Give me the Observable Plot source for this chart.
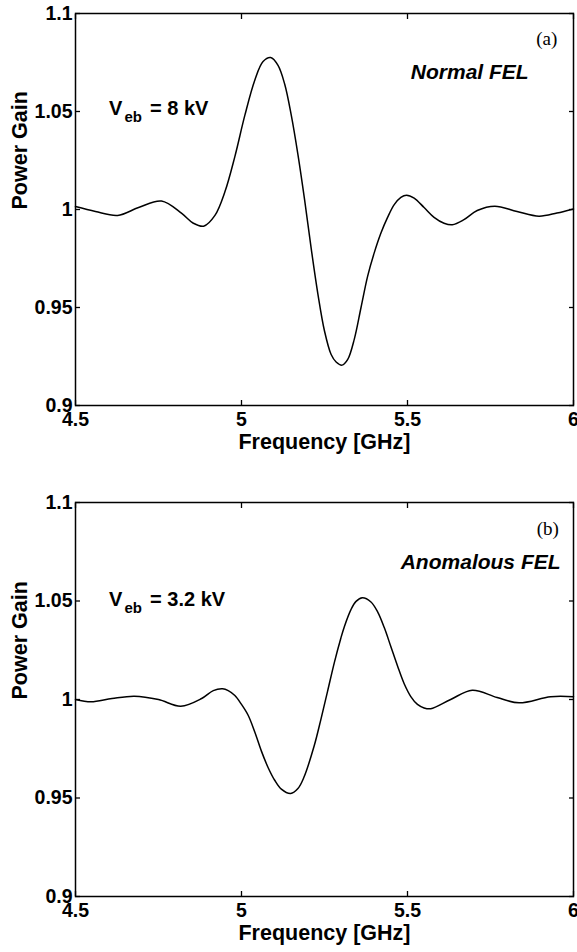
<!DOCTYPE html>
<html><head><meta charset="utf-8">
<script src="https://cdn.jsdelivr.net/npm/d3@7"></script>
<script src="https://cdn.jsdelivr.net/npm/@observablehq/plot@0.6"></script>
<style>
body{margin:0;background:#fff}
#chart svg{display:block}
</style>
</head><body><div id="chart"></div>
<script>
// Panel (a): Normal FEL, Veb = 8 kV
const freqA = [4.5, 4.56, 4.627, 4.69, 4.759, 4.82, 4.855, 4.886, 4.92, 4.95, 4.98, 5.01, 5.04, 5.065, 5.088, 5.11, 5.13, 5.15, 5.17, 5.19, 5.21, 5.23, 5.25, 5.27, 5.285, 5.303, 5.32, 5.34, 5.36, 5.38, 5.40, 5.42, 5.44, 5.46, 5.48, 5.497, 5.52, 5.55, 5.58, 5.61, 5.635, 5.67, 5.71, 5.763, 5.83, 5.896, 5.95, 6.0];
const gainA = [1.0015, 0.999, 0.997, 1.001, 1.0043, 0.998, 0.993, 0.9915, 0.997, 1.009, 1.027, 1.048, 1.066, 1.0755, 1.0775, 1.0735, 1.064, 1.048, 1.028, 1.005, 0.980, 0.957, 0.938, 0.926, 0.9222, 0.9206, 0.9235, 0.934, 0.950, 0.966, 0.978, 0.988, 0.996, 1.0025, 1.0062, 1.0073, 1.0058, 1.001, 0.996, 0.993, 0.9922, 0.9948, 0.9995, 1.0017, 0.999, 0.9966, 0.9982, 1.0003];
// Panel (b): Anomalous FEL, Veb = 3.2 kV
const freqB = [4.5, 4.547, 4.61, 4.677, 4.75, 4.817, 4.88, 4.915, 4.943, 4.96, 4.98, 5.0, 5.02, 5.04, 5.06, 5.08, 5.10, 5.12, 5.148, 5.17, 5.188, 5.219, 5.239, 5.259, 5.28, 5.299, 5.31, 5.329, 5.345, 5.364, 5.39, 5.41, 5.43, 5.45, 5.47, 5.49, 5.51, 5.53, 5.55, 5.57, 5.63, 5.695, 5.77, 5.836, 5.931, 6.0];
const gainB = [1.0, 0.9988, 1.0005, 1.0017, 1.0, 0.9966, 1.0005, 1.0045, 1.0054, 1.0045, 1.002, 0.9975, 0.992, 0.9835, 0.9738, 0.9655, 0.959, 0.9545, 0.9523, 0.9548, 0.9605, 0.9765, 0.9898, 1.004, 1.019, 1.031, 1.0371, 1.0454, 1.0498, 1.0516, 1.0495, 1.0445, 1.0365, 1.0268, 1.017, 1.008, 1.0015, 0.9975, 0.9957, 0.9953, 1.0, 1.0047, 1.001, 0.9983, 1.0014, 1.0014];

const xTicks = [4.5, 5, 5.5, 6];
const yTicks = [0.9, 0.95, 1, 1.05, 1.1];
const xLabel = "Frequency [GHz]";
const yLabel = "Power Gain";
const panelTags = ["(a)", "(b)"];
const regimes = ["Normal FEL", "Anomalous FEL"];
const voltages = ["= 8 kV", "= 3.2 kV"];

const SANS = '"Liberation Sans", Arial, Helvetica, sans-serif';
const SERIF = '"Liberation Serif", "Times New Roman", serif';

function panel(o) {
  return Plot.plot({
    width: 577,
    height: o.height,
    marginLeft: 75,
    marginRight: 4,
    marginTop: o.marginTop,
    marginBottom: o.marginBottom,
    style: {fontFamily: SANS, fontWeight: "bold", fontSize: "19.5px", color: "black", background: "white", overflow: "visible"},
    x: {domain: [4.5, 6]},
    y: {domain: [0.9, 1.1]},
    marks: [
      Plot.axisX(xTicks, {anchor: "bottom", tickSize: -5, tickPadding: 12, tickFormat: d => String(d), label: null, strokeWidth: 1.3}),
      Plot.axisX(xTicks, {anchor: "top", tickSize: -5, tickFormat: () => "", label: null, strokeWidth: 1.3}),
      Plot.axisY(yTicks, {anchor: "left", tickSize: -5, tickPadding: 8, tickFormat: d => String(d), label: null, strokeWidth: 1.3}),
      Plot.axisY(yTicks, {anchor: "right", tickSize: -5, tickFormat: () => "", label: null, strokeWidth: 1.3}),
      Plot.frame({stroke: "black", strokeWidth: 1.5}),
      Plot.line(o.gain, {x: o.freq, y: o.gain, curve: "catmull-rom", stroke: "black", strokeWidth: 1.5}),
      Plot.text([xLabel], {frameAnchor: "bottom", dy: 43, text: d => d, fontSize: 21.5, fontWeight: "bold"}),
      Plot.text([yLabel], {frameAnchor: "left", dx: -55, rotate: -90, text: d => d, fontSize: 21.5, fontWeight: "bold"}),
      Plot.text([o.tag], {x: o.tagX, y: o.tagY, text: d => d, textAnchor: "end", fontFamily: SERIF, fontWeight: "normal", fontSize: 19}),
      Plot.text([o.regime], {x: o.regX, y: o.regY, text: d => d, textAnchor: "end", fontStyle: "italic", fontWeight: "bold", fontSize: 21}),
      Plot.text(["V"], {x: o.vX, y: o.vY, text: d => d, textAnchor: "start", fontSize: 20, fontWeight: "bold"}),
      Plot.text(["eb"], {x: o.vX, y: o.vY, dx: 15.5, dy: 9, text: d => d, textAnchor: "start", fontSize: 15, fontWeight: "bold"}),
      Plot.text([o.volt], {x: o.vX, y: o.vY, dx: 41, text: d => d, textAnchor: "start", fontSize: 20, fontWeight: "bold"})
    ]
  });
}

const root = document.getElementById("chart");
root.append(panel({
  freq: freqA, gain: gainA, height: 462, marginTop: 13, marginBottom: 57,
  tag: panelTags[0], tagX: 5.951, tagY: 1.0872,
  regime: regimes[0], regX: 5.865, regY: 1.0699,
  volt: voltages[0], vX: 4.601, vY: 1.0515
}));
root.append(panel({
  freq: freqB, gain: gainB, height: 490, marginTop: 40, marginBottom: 56,
  tag: panelTags[1], tagX: 5.956, tagY: 1.0868,
  regime: regimes[1], regX: 5.961, regY: 1.0695,
  volt: voltages[1], vX: 4.601, vY: 1.0509
}));
</script>
</body></html>
